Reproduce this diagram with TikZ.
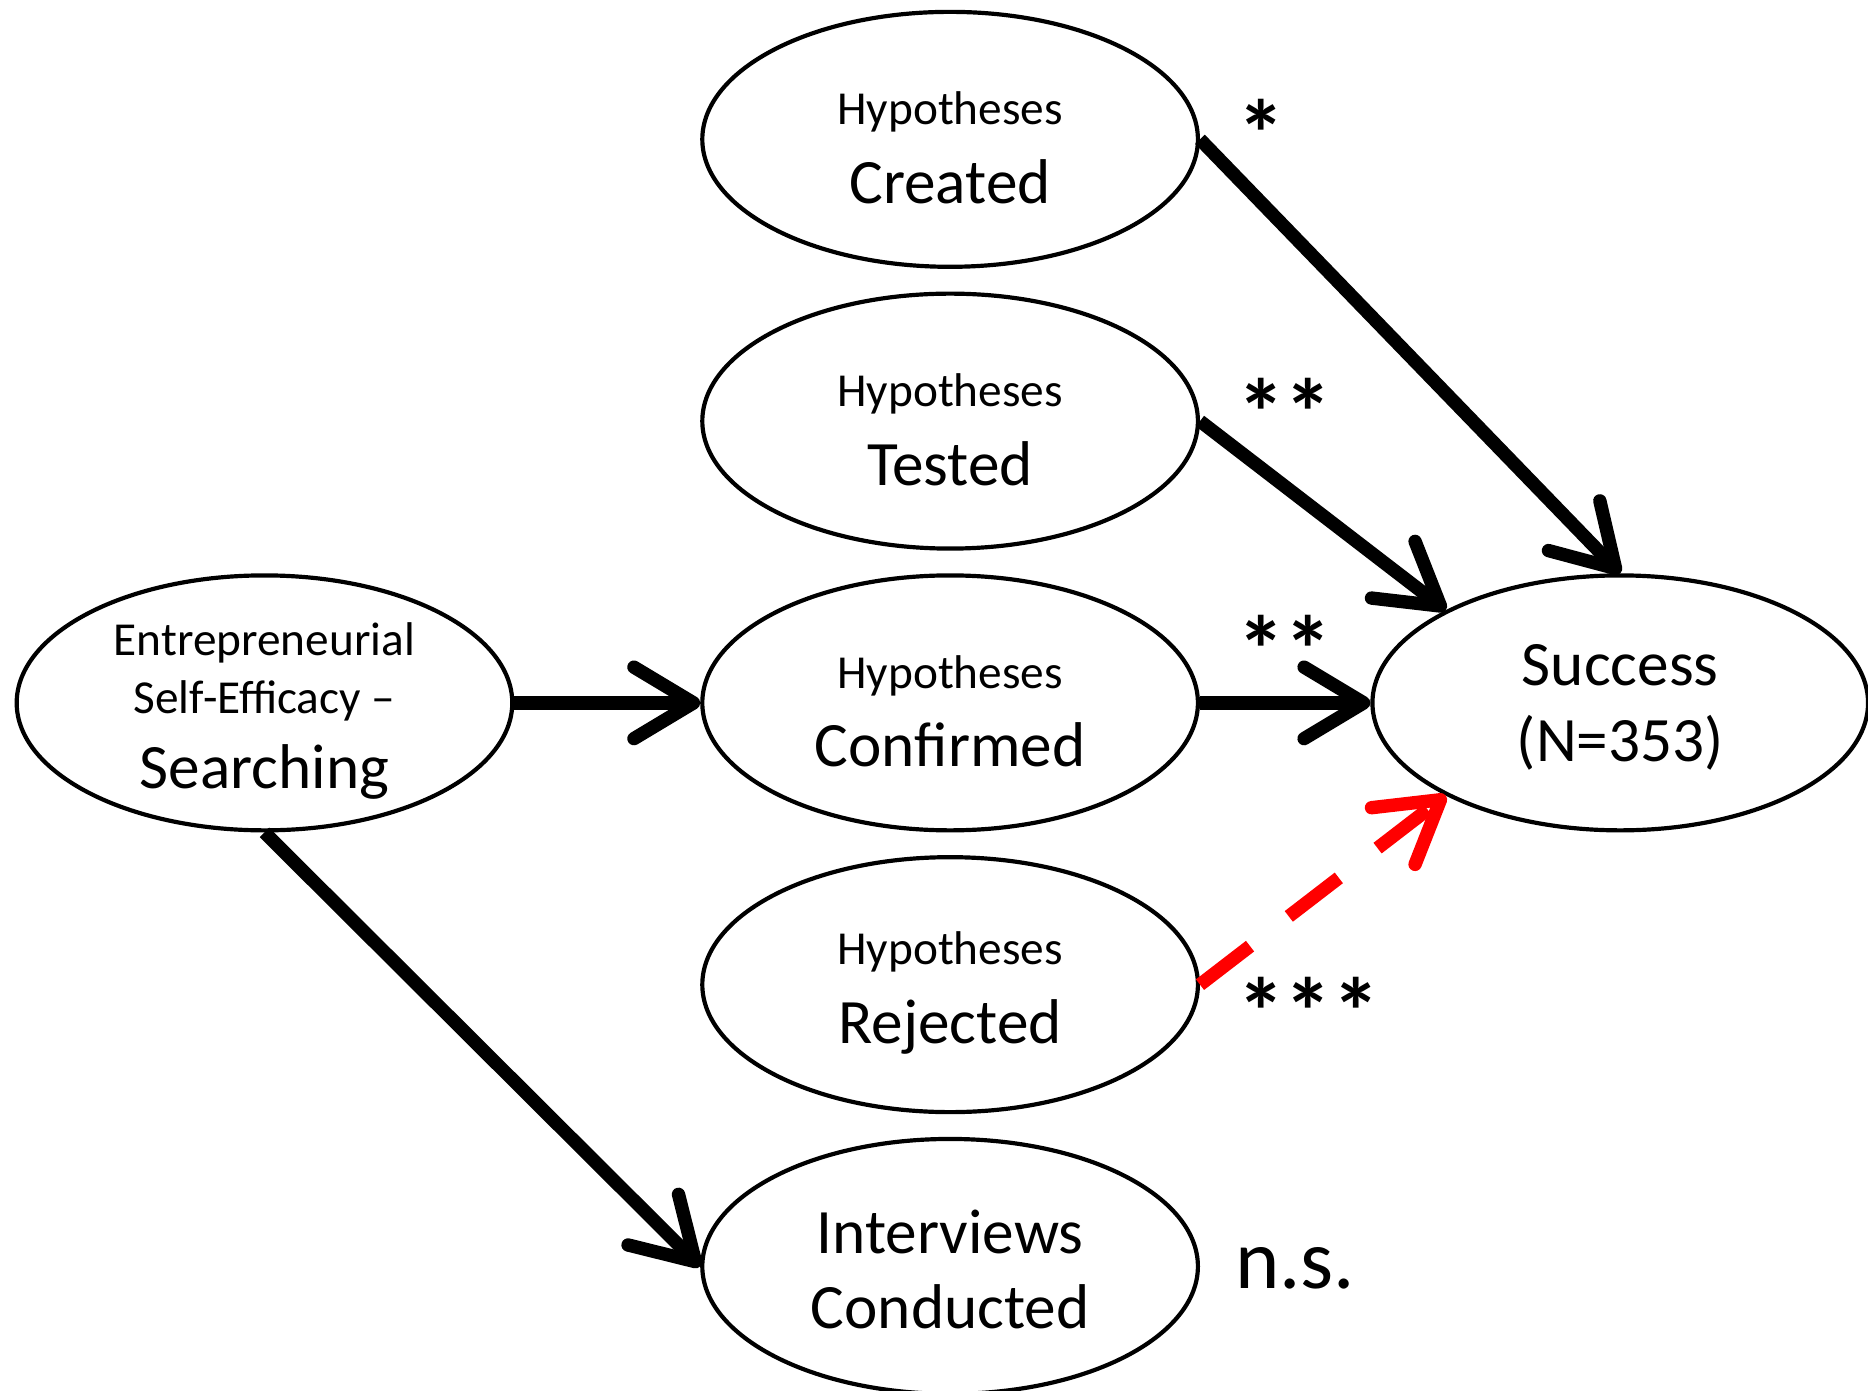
\documentclass[tikz,border=0pt]{standalone}
\usepackage{fontspec}
\setmainfont{Carlito}
\usepackage{tikz}
\usetikzlibrary{positioning, shapes, arrows.meta}
\newcommand{\smalltxt}{\fontsize{11.3}{13.6}\selectfont}
\newcommand{\bigtxt}{\fontsize{15.1}{18}\selectfont}
\newcommand{\hugetxt}{\fontsize{20.2}{24}\selectfont}
\newcommand{\startxt}{\fontsize{22.8}{24}\selectfont\bfseries}
\newcommand{\topstrut}{\rule{0pt}{11.9pt}}
\newcommand{\hyp}[1]{\topstrut{\smalltxt Hypotheses}\\[0.8pt]#1}
\tikzset{construct/.style={
        draw,
        ellipse,
        line width=1pt,
        minimum width=4.16cm,
        minimum height=2.14cm,
        inner xsep=0pt,
        inner ysep=-0.4cm,
        align=center,
        font=\bigtxt
}}
\tikzset{pathedge/.style={draw,line width=3.2pt,-{Straight Barb[length=5mm,width=6mm,round]}}}
\tikzset{rejectedge/.style={pathedge,red,dash pattern=on 5.3mm off 4.1mm}}
\tikzset{sig/.style={font=\startxt,inner sep=0pt,anchor=west}}

\begin{document}
\begin{tikzpicture}[node distance=0.19cm]
\useasboundingbox (0,0) rectangle (15.68,-11.67);
\node[construct] (ese) at (2.22,-5.90) {\topstrut{\smalltxt Entrepreneurial}\\[-4.3pt]{\smalltxt Self-Efficacy –}\\Searching};
\node[construct, right=1.56cm of ese] (confirmed) {\hyp{Confirmed}};
\node[construct, above=of confirmed] (tested) {\hyp{Tested}};
\node[construct, above=of tested] (created) {\hyp{Created}};
\node[construct, below=of confirmed] (rejected) {\hyp{Rejected}};
\node[construct, below=of rejected] (interviews) {\topstrut Interviews\\Conducted};
\node[construct, right=1.43cm of confirmed] (success) {\topstrut Success\\(N=353)};

% significance
\node[sig] (sigcreated) at (10.38,-1.12) {*};
\node[sig] (sigtested) at (10.38,-3.46) {**};
\node[sig] (sigconfirmed) at (10.38,-5.45) {**};
\node[sig] (sigrejected) at (10.38,-8.49) {***};
\node[sig, font=\hugetxt] (siginterviews) at (10.36,-10.65) {n.s.};

\draw[pathedge] (ese.east) -- (confirmed.west);
\draw[pathedge] (ese.south) -- (interviews.west);
\draw[pathedge] (created.east) -- (success.north);
\draw[pathedge] (tested.east) -- (success.152);
\draw[pathedge] (confirmed.east) -- (success.west);
\draw[rejectedge] (rejected.east) -- (success.208);
\end{tikzpicture}
\end{document}
